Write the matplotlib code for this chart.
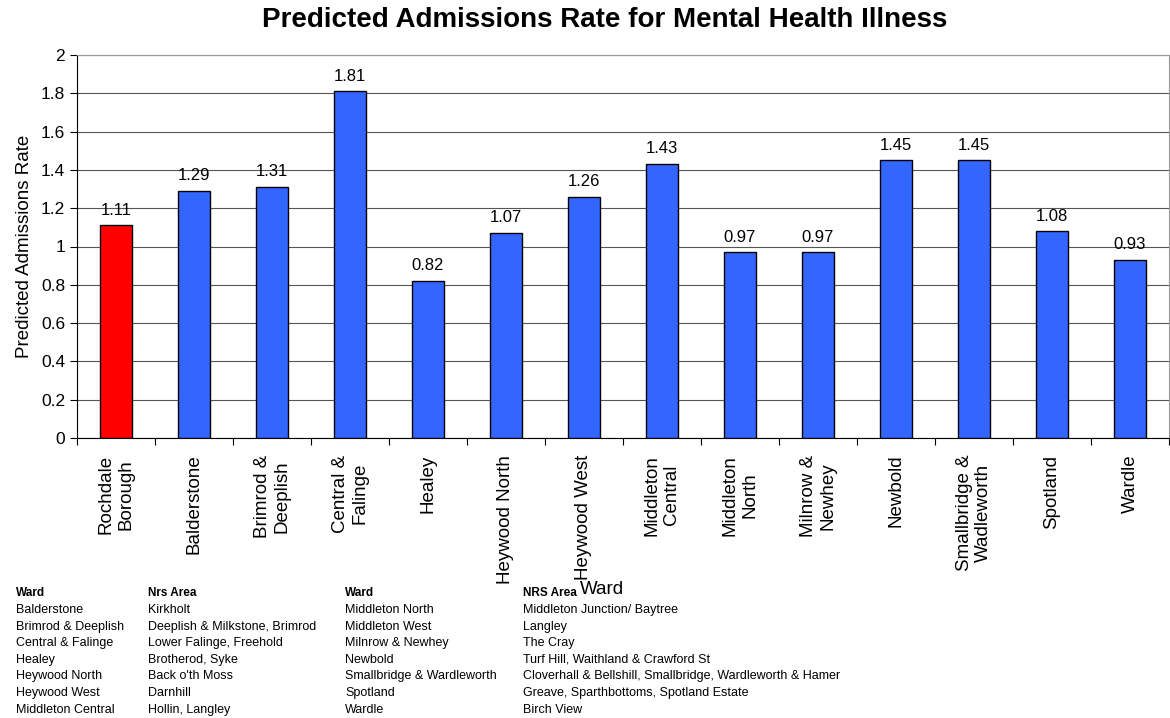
import matplotlib
matplotlib.use("Agg")
import matplotlib.pyplot as plt

plt.rcParams['font.family'] = ['Liberation Sans', 'DejaVu Sans']

categories = ["Rochdale\nBorough", "Balderstone", "Brimrod &\nDeeplish", "Central &\nFalinge",
              "Healey", "Heywood North", "Heywood West", "Middleton\nCentral",
              "Middleton\nNorth", "Milnrow &\nNewhey", "Newbold", "Smallbridge &\nWadleworth",
              "Spotland", "Wardle"]
values = [1.11, 1.29, 1.31, 1.81, 0.82, 1.07, 1.26, 1.43, 0.97, 0.97, 1.45, 1.45, 1.08, 0.93]
colors = ["#FF0000"] + ["#3366FF"] * 13
yticks = [0, 0.2, 0.4, 0.6, 0.8, 1, 1.2, 1.4, 1.6, 1.8, 2]
ytick_labels = ["0", "0.2", "0.4", "0.6", "0.8", "1", "1.2", "1.4", "1.6", "1.8", "2"]

table_ward1 = ["Balderstone", "Brimrod & Deeplish", "Central & Falinge", "Healey",
               "Heywood North", "Heywood West", "Middleton Central"]
table_area1 = ["Kirkholt", "Deeplish & Milkstone, Brimrod", "Lower Falinge, Freehold",
               "Brotherod, Syke", "Back o'th Moss", "Darnhill", "Hollin, Langley"]
table_ward2 = ["Middleton North", "Middleton West", "Milnrow & Newhey", "Newbold",
               "Smallbridge & Wardleworth", "Spotland", "Wardle"]
table_area2 = ["Middleton Junction/ Baytree", "Langley", "The Cray",
               "Turf Hill, Waithland & Crawford St",
               "Cloverhall & Bellshill, Smallbridge, Wardleworth & Hamer",
               "Greave, Sparthbottoms, Spotland Estate", "Birch View"]

W, H = 1170, 718
fig = plt.figure(figsize=(W / 100, H / 100), dpi=100)
L, R, T, B = 77, 1169, 55, 438
ax = fig.add_axes([L / W, 1 - B / H, (R - L) / W, (B - T) / H])

x = list(range(len(categories)))
ax.bar(x, values, width=0.4, color=colors, edgecolor="black", linewidth=1.0, zorder=3)
for xi, v in zip(x, values):
    ax.text(xi, v + 0.04, f"{v:.2f}", ha="center", va="bottom", fontsize=12, zorder=4)

ax.set_xlim(-0.5, len(categories) - 0.5)
ax.set_ylim(0, 2)
ax.set_yticks(yticks)
ax.set_yticklabels(ytick_labels, fontsize=12.5)
ax.yaxis.grid(True, color="#555555", linewidth=0.8, zorder=0)
ax.set_xticks([i - 0.5 for i in range(len(categories) + 1)], minor=False)
ax.set_xticklabels([])
ax.set_xticks(x, minor=True)
ax.set_xticklabels(categories, minor=True, rotation=90, fontsize=13.5,
                   va="top", ha="center", multialignment="center")
ax.tick_params(axis="x", which="minor", length=0, pad=12)
ax.tick_params(axis="x", which="major", length=5, direction="out")
ax.tick_params(axis="y", length=5, direction="out")
ax.set_ylabel("Predicted Admissions Rate", fontsize=13.5, labelpad=6)
ax.spines["top"].set_color("#999999")
ax.spines["right"].set_color("#999999")
for s in ["left", "bottom"]:
    ax.spines[s].set_color("black")

fig.text(605 / W, 1 - 20 / H, "Predicted Admissions Rate for Mental Health Illness",
         ha="center", va="center", fontsize=20, fontweight="bold")

fig.text(602 / W, 1 - 590 / H, "Ward", ha="center", va="center", fontsize=13.5)

def col(xp, head, rows):
    fig.text(xp / W, 1 - 593 / H, head, ha="left", va="center", fontsize=8.5, fontweight="bold")
    for i, r in enumerate(rows):
        fig.text(xp / W, 1 - (610 + i * 16.6) / H, r, ha="left", va="center", fontsize=9)

col(16, "Ward", table_ward1)
col(148, "Nrs Area", table_area1)
col(345, "Ward", table_ward2)
col(523, "NRS Area", table_area2)

fig.savefig("out.png", dpi=100)
